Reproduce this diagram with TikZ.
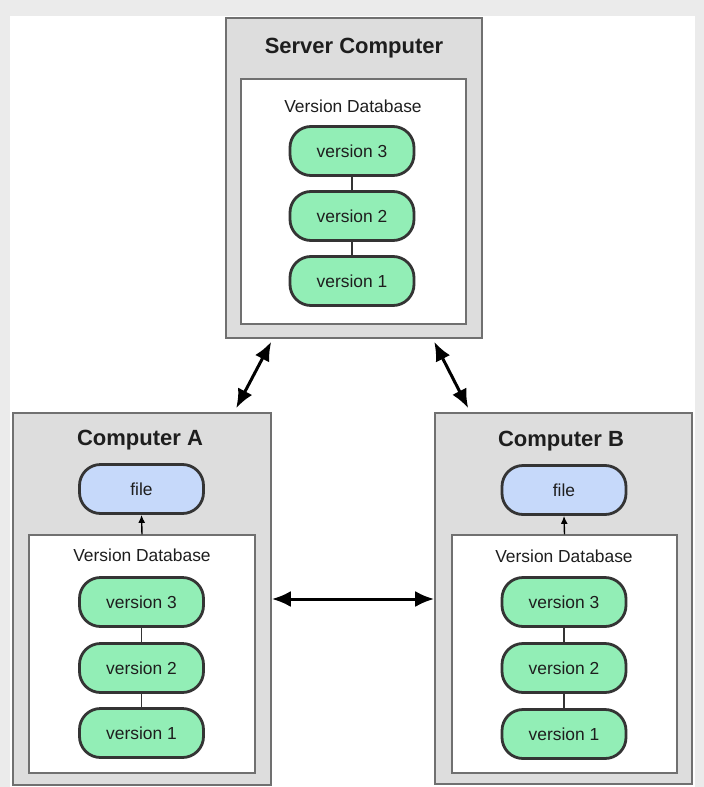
\documentclass[tikz,border=0pt]{standalone}
\usepackage{fontspec}
\setmainfont{Liberation Sans}
\usepackage{tikz}
\usetikzlibrary{arrows.meta}

\definecolor{framegray}{RGB}{235,235,235}
\definecolor{boxgray}{RGB}{221,221,221}
\definecolor{edgegray}{RGB}{112,112,112}
\definecolor{pilledge}{RGB}{52,52,52}
\definecolor{vgreen}{RGB}{146,238,182}
\definecolor{fblue}{RGB}{198,217,250}
\definecolor{inkgray}{RGB}{30,30,30}

\begin{document}
\begin{tikzpicture}[x=1pt,y=-1pt,
    machine/.style={draw=edgegray,line width=1.6pt,fill=boxgray},
    database/.style={draw=edgegray,line width=1.4pt,fill=white},
    pill/.style={draw=pilledge,line width=2.8pt,rounded corners=21pt,
      minimum width=124pt,minimum height=49pt,inner sep=0pt,
      text=inkgray,font=\fontsize{17.4}{20}\selectfont},
    version/.style={pill,fill=vgreen},
    workfile/.style={pill,fill=fblue},
    title/.style={font=\bfseries\fontsize{22}{26}\selectfont,text=inkgray},
    dblabel/.style={font=\fontsize{17.4}{20}\selectfont,text=inkgray},
    sync/.style={{Latex[length=19pt,width=16pt]}-{Latex[length=19pt,width=16pt]},line width=3pt},
    checkout/.style={-{Latex[length=8pt,width=7pt]},line width=1.4pt}]
  %uncomment to see grid on which it was generated:
  %\draw[dotted,step=50,black,very thin] (0,0) grid (704,787);

  \useasboundingbox (0,0) rectangle (704,787);

  % background frame
  \fill[framegray] (0,0) rectangle (704,787);
  \fill[white] (10,16) rectangle (695,787);

  % machines
  \node[machine,minimum width=256pt,minimum height=320pt] (server) at (354,178) {};
  \node[machine,minimum width=258pt,minimum height=372pt] (compA) at (142,599) {};
  \node[machine,minimum width=257pt,minimum height=371pt] (compB) at (563.5,598.5) {};

  % version databases
  \node[database,minimum width=225pt,minimum height=245pt] (dbS) at (353.5,201.5) {};
  \node[database,minimum width=226pt,minimum height=238pt] (dbA) at (142,654) {};
  \node[database,minimum width=225pt,minimum height=238pt] (dbB) at (564.5,654) {};

  % titles
  \node[title] (titleS) at (354,48) {Server Computer};
  \node[title] (titleA) at (140,440) {Computer A};
  \node[title] (titleB) at (561,441) {Computer B};

  \node[dblabel] (labelS) at (353,106) {Version Database};
  \node[dblabel] (labelA) at (142,555) {Version Database};
  \node[dblabel] (labelB) at (564,556) {Version Database};

  % versions on the server
  \node[version] (s3) at (352,151) {version 3};
  \node[version] (s2) at (352,216) {version 2};
  \node[version] (s1) at (352,281) {version 1};

  % computer A
  \node[workfile] (fileA) at (141.5,489) {file};
  \node[version] (a3) at (141.5,602) {version 3};
  \node[version] (a2) at (141.5,668) {version 2};
  \node[version] (a1) at (141.5,733) {version 1};

  % computer B
  \node[workfile] (fileB) at (564,490) {file};
  \node[version] (b3) at (564,602) {version 3};
  \node[version] (b2) at (564,668) {version 2};
  \node[version] (b1) at (564,734) {version 1};

  % history links
  \draw[pilledge,line width=1.3pt] (s3) -- (s2) (s2) -- (s1);
  \draw[pilledge,line width=1.3pt] (a3) -- (a2) (a2) -- (a1);
  \draw[pilledge,line width=1.3pt] (b3) -- (b2) (b2) -- (b1);

  % checkout
  \draw[checkout] (dbA.north) -- (fileA.south);
  \draw[checkout] (dbB.north) -- (fileB.south);

  % sync arrows
  \draw[sync] ([xshift=46pt,yshift=-3pt]server.south west)
    -- ([xshift=224pt,yshift=4pt]compA.north west);
  \draw[sync] ([xshift=209pt,yshift=-3pt]server.south west)
    -- ([xshift=34pt,yshift=4pt]compB.north west);
  \draw[sync] (compA.east) -- (compA.east -| compB.west);
\end{tikzpicture}
\end{document}
